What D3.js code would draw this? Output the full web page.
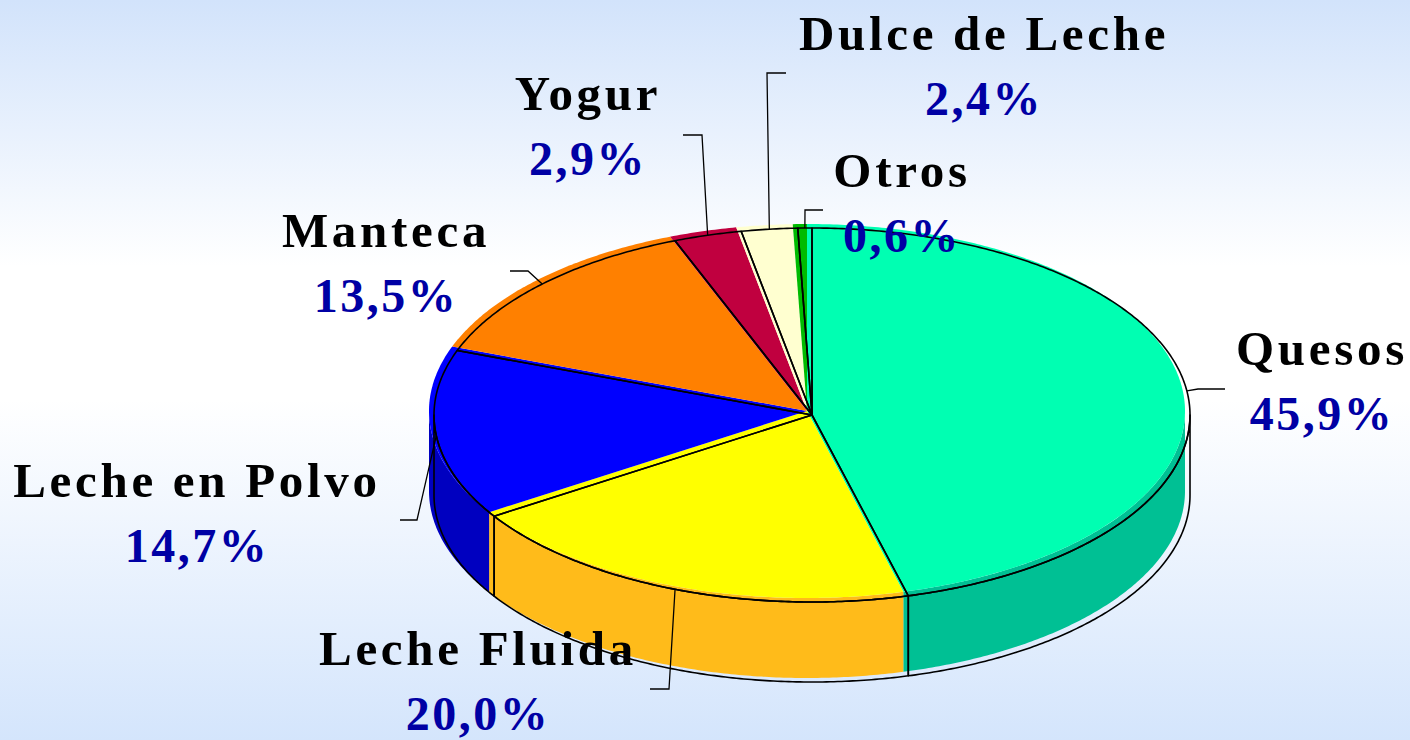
<!DOCTYPE html>
<html>
<head>
<meta charset="utf-8">
<script src="https://cdn.jsdelivr.net/npm/d3@7.9.0/dist/d3.min.js"></script>
<style>
  body { margin: 0; }
  svg { display: block; }
  .name { font-family: "Liberation Serif", "Times New Roman", serif; font-weight: bold; font-size: 49px; letter-spacing: 3.7px; fill: #000; }
  .pct { font-family: "Liberation Serif", "Times New Roman", serif; font-weight: bold; font-size: 48px; letter-spacing: 2.5px; fill: #0000a4; }
</style>
</head>
<body>
<svg id="chart" width="1410" height="740"></svg>
<script>
// data
const categories = ['Quesos', 'Leche Fluida', 'Leche en Polvo', 'Manteca', 'Yogur', 'Dulce de Leche', 'Otros'];
const shares = [45.9, 20.0, 14.7, 13.5, 2.9, 2.4, 0.6];
const pctLabels = ['45,9%', '20,0%', '14,7%', '13,5%', '2,9%', '2,4%', '0,6%'];

const topColors = ['#00ffb2', '#ffff00', '#0000ff', '#ff8000', '#c0003f', '#ffffd0', '#00bb00'];
const sideColors = ['#00c094', '#ffbb1a', '#0000c0', '#c86400', '#900030', '#d8d8a8', '#008c00'];

// label layout: centre x, baseline of name, baseline of percent
const labelPos = {
  'Quesos':         { x: 1322, y1: 365, y2: 430 },
  'Leche Fluida':   { x: 478,  y1: 665, y2: 730 },
  'Leche en Polvo': { x: 197,  y1: 497, y2: 562 },
  'Manteca':        { x: 386,  y1: 247, y2: 312 },
  'Yogur':          { x: 588,  y1: 110, y2: 175 },
  'Dulce de Leche': { x: 984,  y1: 50,  y2: 115 },
  'Otros':          { x: 902,  y1: 187, y2: 252 }
};
// leader lines: start point and elbow x (same y), ending on the slice edge
const leaders = {
  'Quesos':         { x: 1225, y: 389, ex: 1198 },
  'Leche Fluida':   { x: 650,  y: 689, ex: 669 },
  'Leche en Polvo': { x: 400,  y: 520, ex: 417 },
  'Manteca':        { x: 510,  y: 271, ex: 528 },
  'Yogur':          { x: 683,  y: 135, ex: 702 },
  'Dulce de Leche': { x: 786,  y: 73,  ex: 767 },
  'Otros':          { x: 823,  y: 210, ex: 805 }
};

const svg = d3.select('#chart');

/*background gradient*/
const grad = svg.append('defs').append('linearGradient')
  .attr('id', 'bg').attr('x1', 0).attr('y1', 0).attr('x2', 0).attr('y2', 1);
grad.append('stop').attr('offset', '0%').attr('stop-color', '#d2e3fb');
grad.append('stop').attr('offset', '36%').attr('stop-color', '#ffffff');
grad.append('stop').attr('offset', '54%').attr('stop-color', '#ffffff');
grad.append('stop').attr('offset', '100%').attr('stop-color', '#d4e5fc');
svg.append('rect').attr('width', 1410).attr('height', 740).attr('fill', 'url(#bg)');

/*3d pie geometry*/
const cx = 807, cy = 411, rx = 378, ry = 187, depth = 80;
const off = [5, 4]; // outline is printed slightly off the fills

const arcs = d3.pie().sort(null).value(d => d)(shares);

function pt(a, dx = 0, dy = 0) {
  return [cx + dx + rx * Math.sin(a), cy + dy - ry * Math.cos(a)];
}
function arcPts(a0, a1, dx, dy) {
  const n = Math.max(2, Math.ceil((a1 - a0) / 0.01));
  return d3.range(n + 1).map(i => pt(a0 + (a1 - a0) * i / n, dx, dy));
}
const line = d3.line();

function topPath(d, dx = 0, dy = 0) {
  return line([[cx + dx, cy + dy], ...arcPts(d.startAngle, d.endAngle, dx, dy)]) + 'Z';
}
function sidePath(d, dx = 0, dy = 0) {
  const s0 = Math.max(d.startAngle, Math.PI / 2);
  const s1 = Math.min(d.endAngle, Math.PI * 1.5);
  if (s1 <= s0) return null;
  const upper = arcPts(s0, s1, dx, dy);
  const lower = arcPts(s0, s1, dx, dy + depth).reverse();
  return line([...upper, ...lower]) + 'Z';
}

const sides = arcs.filter(d => sidePath(d));

// side walls
svg.append('g').selectAll('path')
  .data(sides)
  .join('path')
  .attr('d', d => sidePath(d))
  .attr('fill', d => sideColors[d.index]);

// top faces
svg.append('g').selectAll('path')
  .data(arcs)
  .join('path')
  .attr('d', d => topPath(d))
  .attr('fill', d => topColors[d.index]);

// outlines
const outline = svg.append('g')
  .attr('fill', 'none')
  .attr('stroke', '#000')
  .attr('stroke-width', 1.6)
  .attr('stroke-linejoin', 'round');
outline.selectAll('path.side')
  .data(sides)
  .join('path')
  .attr('class', 'side')
  .attr('d', d => sidePath(d, off[0], off[1]));
outline.selectAll('path.top')
  .data(arcs)
  .join('path')
  .attr('class', 'top')
  .attr('d', d => topPath(d, off[0], off[1]));

/*leader lines*/
svg.append('g').selectAll('path')
  .data(arcs)
  .join('path')
  .attr('fill', 'none')
  .attr('stroke', '#000')
  .attr('stroke-width', 1.3)
  .attr('d', d => {
    const L = leaders[categories[d.index]];
    const mid = (d.startAngle + d.endAngle) / 2;
    return line([[L.x, L.y], [L.ex, L.y], pt(mid, off[0], off[1])]);
  });

/*labels*/
const labels = svg.append('g').selectAll('g')
  .data(categories)
  .join('g');
labels.append('text')
  .attr('class', 'name')
  .attr('text-anchor', 'middle')
  .attr('x', d => labelPos[d].x)
  .attr('y', d => labelPos[d].y1)
  .text(d => d);
labels.append('text')
  .attr('class', 'pct')
  .attr('text-anchor', 'middle')
  .attr('x', d => labelPos[d].x)
  .attr('y', d => labelPos[d].y2)
  .text((d, i) => pctLabels[i]);
</script>
</body>
</html>
